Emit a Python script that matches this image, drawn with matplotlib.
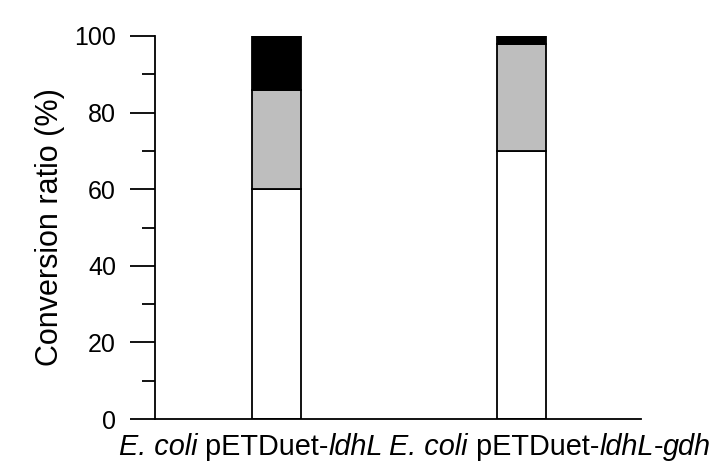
import matplotlib
matplotlib.use("Agg")
import matplotlib.pyplot as plt
import numpy as np
from matplotlib.offsetbox import TextArea, HPacker, AnnotationBbox

# label pieces: (text, italic?)
label_parts = [
    [("E. coli", True), (" pETDuet-", False), ("ldhL", True)],
    [("E. coli", True), (" pETDuet-", False), ("ldhL", True), ("-", False), ("gdh", True)],
]
white_vals = [60, 70]
gray_vals = [26, 28]
black_vals = [14, 2]
label_centers = [-0.104, 1.118]

plt.rcParams['font.family'] = ['Liberation Sans', 'DejaVu Sans']

fig = plt.figure(figsize=(7.13, 4.65), dpi=100)
ax = fig.add_axes([0.2174, 0.0989, 0.899 - 0.2174, 0.9226 - 0.0989])

x = np.arange(len(white_vals))
w = 0.2
ax.bar(x, white_vals, w, color='white', edgecolor='black', linewidth=1.3)
ax.bar(x, gray_vals, w, bottom=white_vals, color='#bebebe', edgecolor='black', linewidth=1.3)
bottoms = [a + b for a, b in zip(white_vals, gray_vals)]
ax.bar(x, black_vals, w, bottom=bottoms, color='black', edgecolor='black', linewidth=1.3)

ax.set_xlim(-0.496, 1.488)
ax.set_ylim(0, 100)
ax.spines['top'].set_visible(False)
ax.spines['right'].set_visible(False)
for s in ['left', 'bottom']:
    ax.spines[s].set_linewidth(1.3)

ax.set_yticks([0, 20, 40, 60, 80, 100])
ax.set_yticks([10, 30, 50, 70, 90], minor=True)
ax.tick_params(axis='y', which='major', length=18, width=1.3, labelsize=18, pad=10)
ax.tick_params(axis='y', which='minor', length=9.5, width=1.3)
ax.set_xticks([])
ax.set_ylabel("Conversion ratio (%)", fontsize=22, labelpad=7)

for parts, xc in zip(label_parts, label_centers):
    areas = [TextArea(t, textprops=dict(fontsize=20.8, style='italic' if it else 'normal', color='black'))
             for t, it in parts]
    box = HPacker(children=areas, pad=0, sep=0, align='baseline')
    ab = AnnotationBbox(box, (xc, 0), xycoords=('data', 'axes fraction'),
                        xybox=(0, -10), boxcoords='offset points',
                        box_alignment=(0.5, 1), frameon=False, pad=0)
    ax.add_artist(ab)

fig.savefig("out.png", dpi=100)
